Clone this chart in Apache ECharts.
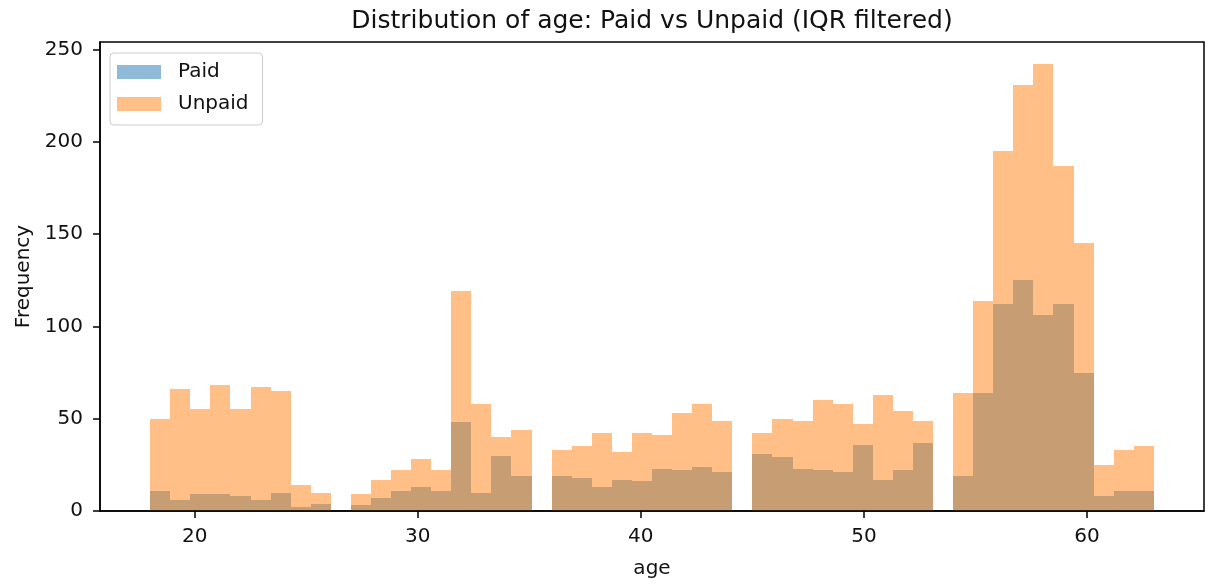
<!DOCTYPE html>
<html>
<head>
<meta charset="utf-8">
<script src="https://cdn.jsdelivr.net/npm/echarts@6/dist/echarts.min.js"></script>
<style>
html,body{margin:0;padding:0;background:#fff;}
#chart{width:1209px;height:584px;}
</style>
</head>
<body>
<div id="chart"></div>
<script>
// Histogram definition: 50 bins over age 18..63
var binStart = 18;
var binWidth = 0.9;

var paidCounts = [
  11, 6, 9, 9, 8, 6, 10, 2, 4, 0,
  3, 7, 11, 13, 11, 48, 10, 30, 19, 0,
  19, 18, 13, 17, 16, 23, 22, 24, 21, 0,
  31, 29, 23, 22, 21, 36, 17, 22, 37, 0,
  19, 64, 112, 125, 106, 112, 75, 8, 11, 11
];
var unpaidCounts = [
  50, 66, 55, 68, 55, 67, 65, 14, 10, 0,
  9, 17, 22, 28, 22, 119, 58, 40, 44, 0,
  33, 35, 42, 32, 42, 41, 53, 58, 49, 0,
  42, 50, 49, 60, 58, 47, 63, 54, 49, 0,
  64, 114, 195, 231, 242, 187, 145, 25, 33, 35
];
var xTicks = [20, 30, 40, 50, 60];
var yTicks = [0, 50, 100, 150, 200, 250];

function binData(counts) {
  var out = [];
  for (var i = 0; i < counts.length; i++) {
    var x0 = binStart + i * binWidth;
    out.push([x0, x0 + binWidth, counts[i]]);
  }
  return out;
}

function renderBar(params, api) {
  var v = api.value(2);
  if (!v) return null;
  var p0 = api.coord([api.value(0), v]);
  var p1 = api.coord([api.value(1), 0]);
  var x0 = Math.round(p0[0]), x1 = Math.round(p1[0]);
  var y0 = Math.round(p0[1]), y1 = Math.round(p1[1]);
  return {
    type: 'rect',
    shape: { x: x0, y: y0, width: x1 - x0, height: y1 - y0 },
    style: api.style()
  };
}

var FONT = 'DejaVu Sans';
var chart = echarts.init(document.getElementById('chart'), null, { renderer: 'canvas' });
chart.setOption({
  animation: false,
  backgroundColor: '#ffffff',
  textStyle: { fontFamily: FONT },
  title: {
    text: 'Distribution of age: Paid vs Unpaid (IQR filtered)',
    left: 652,
    top: 9,
    padding: 0,
    textAlign: 'center',
    textStyle: { fontFamily: FONT, fontSize: 25, fontWeight: 'normal', color: '#111' }
  },
  legend: {
    orient: 'vertical',
    left: 110,
    top: 53,
    padding: [9, 14, 11, 7],
    itemGap: 12,
    itemWidth: 44,
    itemHeight: 14,
    icon: 'rect',
    borderColor: '#cccccc',
    borderWidth: 1,
    borderRadius: 4,
    backgroundColor: 'rgba(255,255,255,0.8)',
    textStyle: { fontFamily: FONT, fontSize: 20, color: '#111', padding: [0, 0, 0, 12], lineHeight: 20 },
    data: ['Paid', 'Unpaid']
  },
  grid: {
    left: 100, right: 5, top: 42, bottom: 69,
    show: true, borderColor: '#000', borderWidth: 1.5, backgroundColor: 'transparent'
  },
  xAxis: {
    type: 'value',
    min: 15.75,
    max: 65.25,
    z: 5,
    name: 'age',
    nameLocation: 'middle',
    nameGap: 48,
    nameTextStyle: { fontFamily: FONT, fontSize: 20, color: '#111' },
    axisLine: { show: true, lineStyle: { color: '#000', width: 1.5 } },
    axisTick: { show: true, length: 7, lineStyle: { color: '#000', width: 1.5 }, customValues: xTicks },
    axisLabel: { fontFamily: FONT, fontSize: 20, color: '#111', margin: 16, customValues: xTicks },
    splitLine: { show: false }
  },
  yAxis: {
    type: 'value',
    min: 0,
    max: 254.1,
    z: 5,
    name: 'Frequency',
    nameLocation: 'middle',
    nameGap: 66,
    nameRotate: 90,
    nameTextStyle: { fontFamily: FONT, fontSize: 20, color: '#111' },
    axisLine: { show: true, lineStyle: { color: '#000', width: 1.5 } },
    axisTick: { show: true, length: 7, lineStyle: { color: '#000', width: 1.5 }, customValues: yTicks },
    axisLabel: { fontFamily: FONT, fontSize: 20, color: '#111', margin: 17, customValues: yTicks },
    splitLine: { show: false }
  },
  series: [
    {
      name: 'Paid',
      type: 'custom',
      renderItem: renderBar,
      itemStyle: { color: 'rgba(31,119,180,0.5)' },
      encode: { x: [0, 1], y: 2 },
      data: binData(paidCounts)
    },
    {
      name: 'Unpaid',
      type: 'custom',
      renderItem: renderBar,
      itemStyle: { color: 'rgba(255,127,14,0.5)' },
      encode: { x: [0, 1], y: 2 },
      data: binData(unpaidCounts)
    }
  ]
});
</script>
</body>
</html>
